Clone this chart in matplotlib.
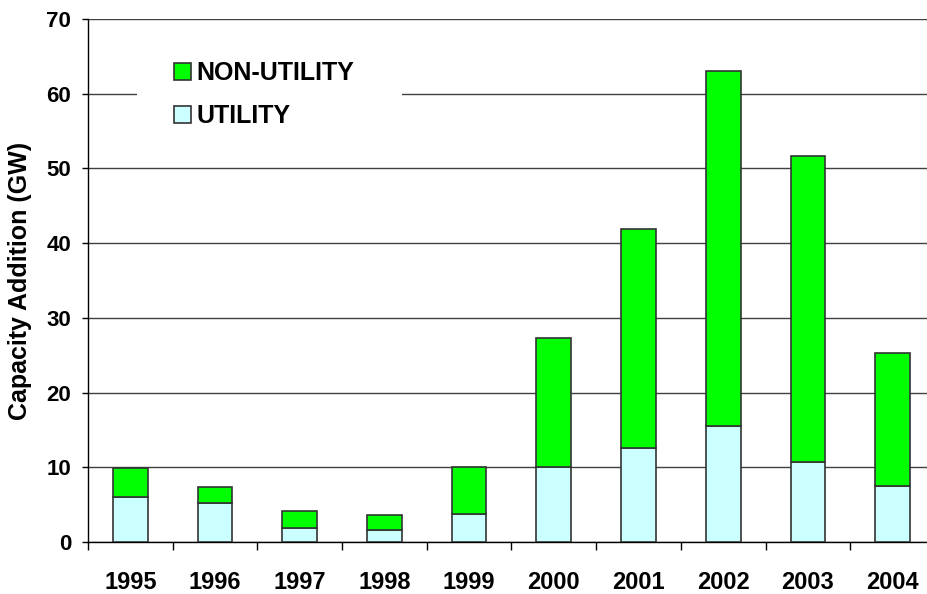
import matplotlib.pyplot as plt
import numpy as np
from matplotlib.patches import Rectangle

plt.rcParams['font.family'] = ['Liberation Sans', 'DejaVu Sans']
plt.rcParams['font.weight'] = 'bold'

years = ['1995', '1996', '1997', '1998', '1999', '2000', '2001', '2002', '2003', '2004']
utility = [6.0, 5.2, 1.9, 1.65, 3.8, 10.0, 12.6, 15.5, 10.7, 7.5]
total = [9.9, 7.4, 4.15, 3.65, 10.0, 27.3, 41.9, 63.0, 51.6, 25.3]
non_utility = [t - u for t, u in zip(total, utility)]

fig = plt.figure(figsize=(9.27, 5.94), dpi=100)
ax = fig.add_axes([0.0949, 0.0875, 0.9137, 0.8805])

x = np.arange(len(years))
edge = '#333333'
ax.bar(x, utility, width=0.41, color='#CCFFFF', edgecolor=edge, linewidth=1.2, zorder=3, label='UTILITY')
ax.bar(x, non_utility, width=0.41, bottom=utility, color='#00FF00', edgecolor=edge, linewidth=1.2,
       zorder=3, label='NON-UTILITY')

ax.set_xlim(-0.5, 9.5)
ax.set_ylim(0, 70)
ax.set_yticks(range(0, 71, 10))
ax.yaxis.grid(True, color='#404040', linewidth=1, zorder=0)
ax.set_axisbelow(True)

for s in ['top', 'right']:
    ax.spines[s].set_visible(False)
ax.spines['left'].set_linewidth(1)
ax.spines['bottom'].set_linewidth(1)

ax.set_xticks(x)
ax.set_xticklabels(years, fontsize=17, fontweight='bold')
ax.set_xticks(np.arange(-0.5, 10, 1), minor=True)
ax.tick_params(axis='x', which='major', length=0, pad=21)
ax.tick_params(axis='x', which='minor', length=6, width=1, direction='out')
ax.tick_params(axis='y', length=4, width=1, pad=8, labelsize=16)
for lab in ax.get_yticklabels():
    lab.set_fontweight('bold')

ax.set_ylabel('Capacity Addition (GW)', fontsize=18, fontweight='bold')
ax.yaxis.set_label_coords(-0.066, 0.5)

# white box behind legend hides the gridline
ax.add_patch(Rectangle((0.08, 54), 3.13, 12, facecolor='white', edgecolor='none', zorder=1))

h, l = ax.get_legend_handles_labels()
leg = ax.legend(h[::-1], l[::-1], loc='upper left', bbox_to_anchor=(0.102, 0.919),
                frameon=False, handlelength=0.68, handleheight=0.68,
                handletextpad=0.22, labelspacing=0.74, borderpad=0, borderaxespad=0,
                prop={'weight': 'bold', 'size': 18})
leg.set_zorder(5)

fig.savefig('out.png', dpi=100)
